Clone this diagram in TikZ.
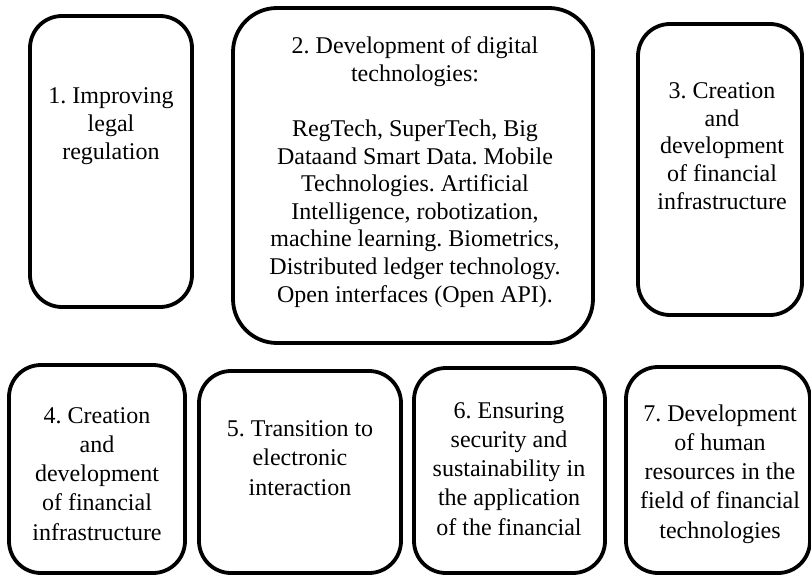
\documentclass[tikz,border=0pt]{standalone}
\usepackage{fontspec}
\setmainfont{Liberation Serif}
\frenchspacing
\begin{document}
\begin{tikzpicture}[x=1pt,y=-1pt,
  box/.style={draw, line width=3.8pt, rounded corners=32pt, inner sep=0pt, minimum width=#1},
  lbl/.style={align=center, inner sep=0pt, anchor=base, font=\frenchspacing\fontsize{24}{27.6}\selectfont},
  lblb/.style={align=center, inner sep=0pt, anchor=base, font=\frenchspacing\fontsize{24}{29.2}\selectfont}]
\useasboundingbox (0,0) rectangle (811,575);
% top row
\node[box=162pt, minimum height=291pt] (b1) at (111,161.5) {};
\node[box=360pt, minimum height=335pt, rounded corners=44pt] (b2) at (413,175.5) {};
\node[box=164pt, minimum height=291pt] (b3) at (720,169.5) {};
% bottom row
\node[box=176pt, minimum height=208pt] (b4) at (97,469) {};
\node[box=202pt, minimum height=202pt] (b5) at (300,472) {};
\node[box=191pt, minimum height=205pt] (b6) at (509.5,470.5) {};
\node[box=184pt, minimum height=206pt] (b7) at (718,470) {};
% texts (anchor base = baseline of the last line)
\node[lbl] (t1) at (111,159) {1. Improving\\legal\\regulation};
\node[lbl] (t2) at (415,302) {2. Development of digital\\technologies:\\[27.6pt]RegTech, SuperTech, Big\\Dataand Smart Data. Mobile\\Technologies. Artificial\\Intelligence, robotization,\\machine learning. Biometrics,\\Distributed ledger technology.\\Open interfaces (Open API).};
\node[lbl] (t3) at (722,209) {3. Creation\\and\\development\\of financial\\infrastructure};
\node[lblb] (t4) at (97,540) {4. Creation\\and\\development\\of financial\\infrastructure};
\node[lblb] (t5) at (300,495) {5. Transition to\\electronic\\interaction};
\node[lblb] (t6) at (509,535) {6. Ensuring\\security and\\sustainability in\\the application\\of the financial};
\node[lblb] (t7) at (720,538) {7. Development\\of human\\resources in the\\field of financial\\technologies};
\end{tikzpicture}
\end{document}
